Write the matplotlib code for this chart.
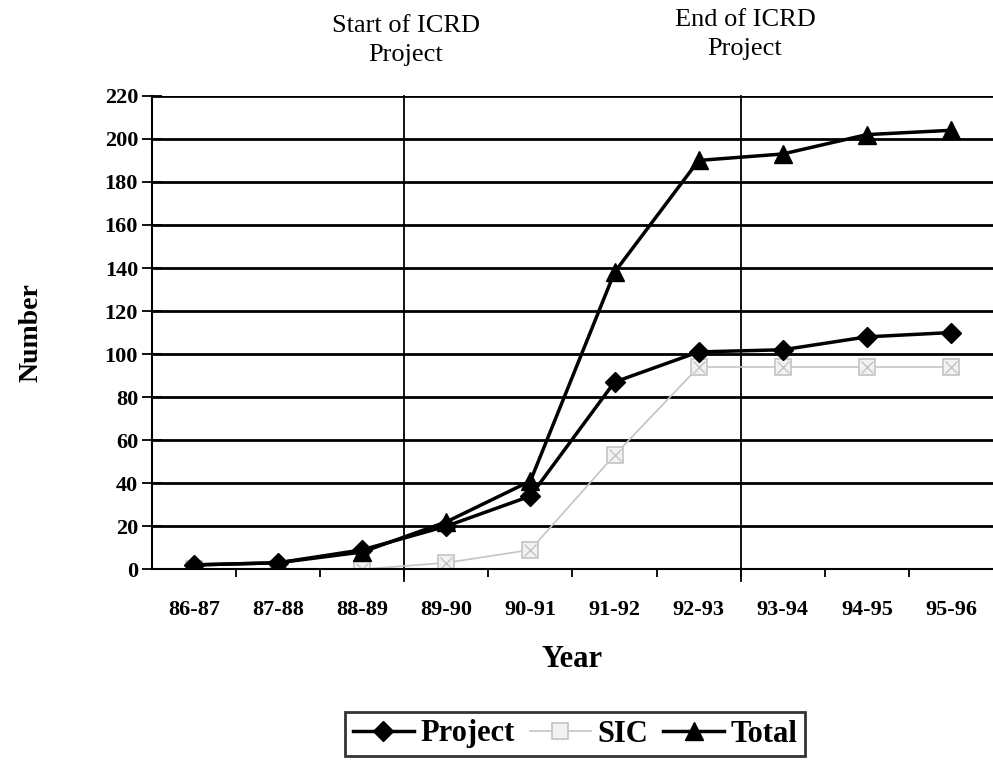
import numpy as np
import matplotlib
matplotlib.use("Agg")
import matplotlib.pyplot as plt

years = ['86-87', '87-88', '88-89', '89-90', '90-91',
         '91-92', '92-93', '93-94', '94-95', '95-96']
project = [2, 3, 9, 20, 34, 87, 101, 102, 108, 110]
sic = [0, 0, 0, 3, 9, 53, 94, 94, 94, 94]
total = [2, 3, 8, 22, 41, 138, 190, 193, 202, 204]

plt.rcParams['font.family'] = ['Liberation Serif', 'DejaVu Serif']

fig = plt.figure(figsize=(9.93, 7.61), dpi=100)
ax = fig.add_axes([0.153, 0.252, 0.847, 0.622])

x = np.arange(len(years))

# horizontal grid
for v in range(20, 221, 20):
    ax.axhline(v, color='black', lw=2.0, zorder=1)

# start / end of project markers
ax.axvline(2.5, color='black', lw=1.3, ymin=-0.025, clip_on=False, zorder=1)
ax.axvline(6.5, color='black', lw=1.3, ymin=-0.025, clip_on=False, zorder=1)

ax.plot(x, sic, color='#c4c4c4', lw=1.2, marker='s', ms=12, mfc='#f2f2f2',
        mec='#c4c4c4', mew=1.2, label='SIC', zorder=2)
ax.plot(x, sic, ls='none', marker='x', ms=8, mec='#c4c4c4', mew=1, zorder=2)
ax.plot(x, project, color='black', lw=2.5, marker='D', ms=10, label='Project', zorder=3)
ax.plot(x, total, color='black', lw=2.5, marker='^', ms=13, label='Total', zorder=4)

ax.set_xlim(-0.5, 9.5)
ax.set_ylim(0, 220)
ax.set_yticks(range(0, 221, 20))
ax.set_xticks(x)
ax.set_xticklabels(years, fontsize=16, fontweight='bold')
ax.set_xticks(np.arange(0.5, 9.5, 1), minor=True)
ax.tick_params(axis='x', which='major', length=0, pad=22)
ax.tick_params(axis='x', which='minor', length=6, width=1.3, direction='out')
ax.tick_params(axis='y', length=14, width=1.3, direction='inout', labelsize=16, pad=3)
for lab in ax.get_yticklabels():
    lab.set_fontweight('bold')

for s in ['top', 'right']:
    ax.spines[s].set_visible(False)
ax.spines['left'].set_linewidth(1.5)
ax.spines['bottom'].set_linewidth(1.5)

ax.set_xlabel('Year', fontsize=22, fontweight='bold', labelpad=18)
ax.set_ylabel('Number', fontsize=20, fontweight='bold', labelpad=44)

fig.text(406 / 993, 1 - 15 / 761, 'Start of ICRD\nProject',
         ha='center', va='top', fontsize=19, linespacing=1.4)
fig.text(745 / 993, 1 - 9 / 761, 'End of ICRD\nProject',
         ha='center', va='top', fontsize=19, linespacing=1.4)

h, l = ax.get_legend_handles_labels()
order = [l.index('Project'), l.index('SIC'), l.index('Total')]
leg = fig.legend([h[i] for i in order], [l[i] for i in order],
                 loc='center', bbox_to_anchor=(575 / 993, 1 - 734 / 761), ncol=3,
                 frameon=True, fancybox=False, edgecolor='black',
                 prop={'size': 22, 'weight': 'bold'}, handlelength=2.0,
                 handletextpad=0.2, columnspacing=0.5, borderpad=0.25)
leg.get_frame().set_linewidth(2)

fig.savefig('out.png', dpi=100)
